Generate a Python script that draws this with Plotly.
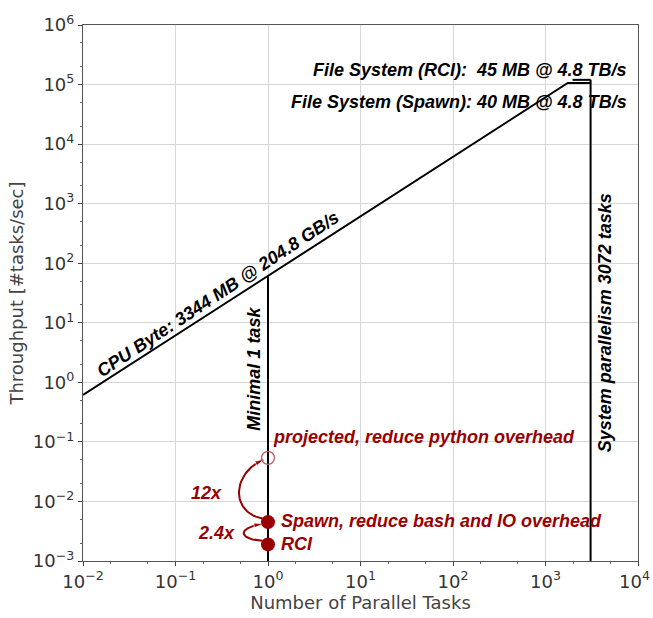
import numpy as np
import plotly.graph_objects as go

# ---- data ----
cpu_mb = 3344.0          # MB per task
cpu_bw_gbs = 204.8       # GB/s
fs_rci_mb = 45.0
fs_spawn_mb = 40.0
fs_bw_tbs = 4.8          # TB/s
min_tasks = 1
max_tasks = 3072
rci_tput = 0.0019
spawn_tput = 0.0045
projected_tput = 0.054
x_ticks = [-2, -1, 0, 1, 2, 3, 4]
y_ticks = [-3, -2, -1, 0, 1, 2, 3, 4, 5, 6]

cpu_per_task = cpu_bw_gbs * 1000.0 / cpu_mb
fs_rci = fs_bw_tbs * 1e6 / fs_rci_mb
fs_spawn = fs_bw_tbs * 1e6 / fs_spawn_mb
knee_rci = fs_rci / cpu_per_task
knee_spawn = fs_spawn / cpu_per_task
x_min = 10 ** x_ticks[0]
y_min = 10 ** y_ticks[0]

RED = "#990000"
FONT = "Liberation Sans, Arial, sans-serif"
TICKFONT = "DejaVu Sans, sans-serif"
TS = 18

fig = go.Figure()

# roofline
fig.add_trace(go.Scatter(x=[x_min, knee_rci, max_tasks], y=[cpu_per_task * x_min, fs_rci, fs_rci],
                         mode="lines", line=dict(color="black", width=2), hoverinfo="skip"))
fig.add_trace(go.Scatter(x=[knee_spawn, max_tasks], y=[fs_spawn, fs_spawn],
                         mode="lines", line=dict(color="black", width=2), hoverinfo="skip"))
# vertical limits
fig.add_trace(go.Scatter(x=[min_tasks, min_tasks], y=[y_min, cpu_per_task * min_tasks],
                         mode="lines", line=dict(color="black", width=2), hoverinfo="skip"))
fig.add_trace(go.Scatter(x=[max_tasks, max_tasks], y=[y_min, fs_spawn],
                         mode="lines", line=dict(color="black", width=2), hoverinfo="skip"))


def curved_arrow(y0, y1, bulge, off0, off1):
    t = np.linspace(0, 1, 40)
    lx = np.log10(min_tasks)
    p0 = np.array([lx - off0, np.log10(y0) + 0.06])
    p3 = np.array([lx - off1, np.log10(y1) - 0.03])
    p1 = np.array([lx - bulge, np.log10(y0) + 0.05 + (np.log10(y1) - np.log10(y0)) * 0.1])
    p2 = np.array([lx - bulge, np.log10(y1) - (np.log10(y1) - np.log10(y0)) * 0.25])
    pts = ((1 - t) ** 3)[:, None] * p0 + (3 * (1 - t) ** 2 * t)[:, None] * p1 + \
          (3 * (1 - t) * t ** 2)[:, None] * p2 + (t ** 3)[:, None] * p3
    sizes = [0] * (len(t) - 1) + [9]
    fig.add_trace(go.Scatter(x=10 ** pts[:, 0], y=10 ** pts[:, 1], mode="lines+markers",
                             line=dict(color=RED, width=2),
                             marker=dict(symbol="arrow", size=sizes, color=RED, angleref="previous"),
                             hoverinfo="skip"))


curved_arrow(spawn_tput, projected_tput, 0.40, 0.06, 0.05)
curved_arrow(rci_tput, spawn_tput, 0.33, 0.06, 0.06)

# points
fig.add_trace(go.Scatter(x=[min_tasks, min_tasks], y=[spawn_tput, rci_tput], mode="markers",
                         marker=dict(size=14, color=RED, line=dict(width=0)), hoverinfo="skip"))
fig.add_trace(go.Scatter(x=[min_tasks], y=[projected_tput], mode="markers",
                         marker=dict(size=13, color="rgba(0,0,0,0)", line=dict(width=1.3, color="#b85a5a")),
                         hoverinfo="skip"))

px_x = (638 - 83) / 6.0
px_y = (565 - 16) / 9.0
angle = np.degrees(np.arctan(px_y / px_x))


def sup(v):
    s = str(v).replace("-", "\u2212")
    return "10<sup>%s</sup>" % s


ann = []
lx_mid = -0.47
ann.append(dict(x=lx_mid, y=np.log10(cpu_per_task) + lx_mid, text="<b><i>CPU Byte: %d MB @ %.1f GB/s</i></b>" % (cpu_mb, cpu_bw_gbs),
                textangle=-angle, showarrow=False, font=dict(family=FONT, size=TS, color="black"),
                xshift=-np.sin(np.radians(angle)) * 12, yshift=np.cos(np.radians(angle)) * 12))
ann.append(dict(x=3.90, y=5.25, text="<b><i>File System (RCI):  %d MB @ %.1f TB/s</i></b>" % (fs_rci_mb, fs_bw_tbs),
                xanchor="right", showarrow=False, font=dict(family=FONT, size=TS, color="black")))
ann.append(dict(x=3.90, y=4.705, text="<b><i>File System (Spawn): %d MB @ %.1f TB/s</i></b>" % (fs_spawn_mb, fs_bw_tbs),
                xanchor="right", showarrow=False, font=dict(family=FONT, size=TS, color="black")))
ann.append(dict(x=np.log10(min_tasks), y=0.23, text="<b><i>Minimal 1 task</i></b>", textangle=-90, xshift=-14,
                showarrow=False, font=dict(family=FONT, size=TS, color="black")))
ann.append(dict(x=np.log10(max_tasks), y=1.0, text="<b><i>System parallelism %d tasks</i></b>" % max_tasks, textangle=-90,
                xshift=14, showarrow=False, font=dict(family=FONT, size=TS, color="black")))
ann.append(dict(x=np.log10(min_tasks), y=np.log10(projected_tput), text="<b><i>projected, reduce python overhead</i></b>",
                xanchor="left", xshift=3, yshift=21, showarrow=False, font=dict(family=FONT, size=TS, color=RED)))
ann.append(dict(x=np.log10(min_tasks), y=np.log10(spawn_tput), text="<b><i>Spawn, reduce bash and IO overhead</i></b>",
                xanchor="left", xshift=11, yshift=1, showarrow=False, font=dict(family=FONT, size=TS, color=RED)))
ann.append(dict(x=np.log10(min_tasks), y=np.log10(rci_tput), text="<b><i>RCI</i></b>",
                xanchor="left", xshift=11, showarrow=False, font=dict(family=FONT, size=TS, color=RED)))
ann.append(dict(x=np.log10(min_tasks), y=(np.log10(spawn_tput) + np.log10(projected_tput)) / 2 - 0.05,
                text="<b><i>%dx</i></b>" % round(projected_tput / spawn_tput),
                xanchor="right", xshift=-44, showarrow=False, font=dict(family=FONT, size=TS, color=RED)))
ann.append(dict(x=np.log10(min_tasks), y=(np.log10(rci_tput) + np.log10(spawn_tput)) / 2 + 0.01,
                text="<b><i>%.1fx</i></b>" % (spawn_tput / rci_tput),
                xanchor="right", xshift=-31, showarrow=False, font=dict(family=FONT, size=TS, color=RED)))
# last x tick label (kept inside the page width)
ann.append(dict(xref="paper", yref="paper", x=1, y=0, xanchor="right", yanchor="top", xshift=14, yshift=-5,
                text=sup(x_ticks[-1]), showarrow=False, font=dict(family=TICKFONT, size=18, color="#333")))

axis_common = dict(type="log", showline=True, linecolor="#555", linewidth=1.2, mirror=True,
                   showgrid=True, gridcolor="#d6d6d6", gridwidth=1.2, zeroline=False,
                   ticks="outside", ticklen=4, tickcolor="#444",
                   minor=dict(ticks="outside", ticklen=2, tickcolor="#666", showgrid=False),
                   tickfont=dict(family=TICKFONT, size=18, color="#333"))

fig.update_layout(
    width=653, height=618, margin=dict(l=83, r=15, t=16, b=53),
    paper_bgcolor="white", plot_bgcolor="white", showlegend=False,
    annotations=ann,
    xaxis=dict(range=[x_ticks[0], x_ticks[-1]], tickvals=[10 ** v for v in x_ticks],
               ticktext=[sup(v) for v in x_ticks[:-1]] + [""],
               title=dict(text="Number of Parallel Tasks", font=dict(family=TICKFONT, size=18, color="#444"), standoff=2),
               **axis_common),
    yaxis=dict(range=[y_ticks[0], y_ticks[-1]], tickvals=[10 ** v for v in y_ticks], ticktext=[sup(v) for v in y_ticks],
               title=dict(text="Throughput [#tasks/sec]", font=dict(family=TICKFONT, size=18, color="#444"), standoff=4),
               **axis_common),
)

fig.write_html("out.html")
